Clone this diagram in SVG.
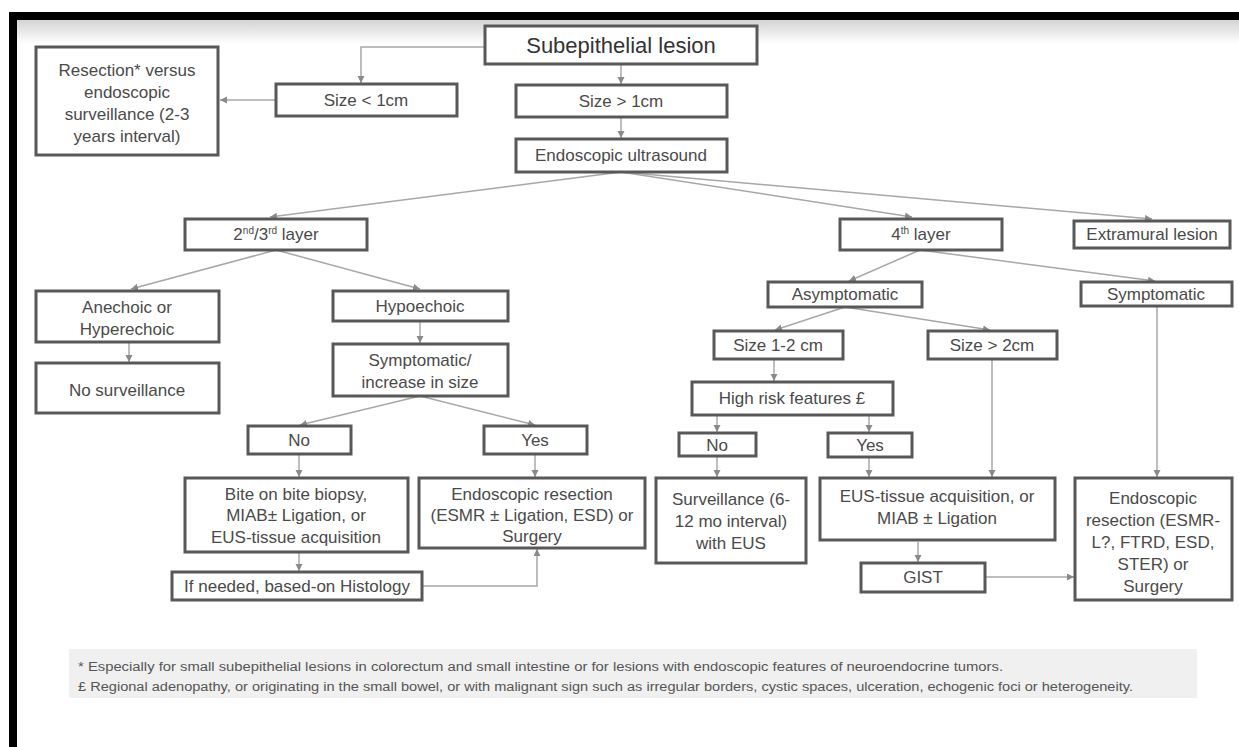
<svg xmlns="http://www.w3.org/2000/svg" width="1239" height="747" viewBox="0 0 1239 747">
<defs>
<linearGradient id="topShade" x1="0" y1="0" x2="0" y2="1">
<stop offset="0" stop-color="#d4d4d4"/>
<stop offset="1" stop-color="#ffffff"/>
</linearGradient>
<marker id="arr" markerWidth="8" markerHeight="8" refX="7" refY="3.5" orient="auto" markerUnits="userSpaceOnUse">
<path d="M0,0 L7,3.5 L0,7 z" fill="#8a8a8a"/>
</marker>
<style>
.box{fill:#ffffff;stroke:#585858;stroke-width:3}
.t{font-family:"Liberation Sans",Arial,sans-serif;font-size:17px;fill:#4a4a4a;text-anchor:middle}
.big{font-size:22px;fill:#333333}
.sup{font-size:10px}
.c{fill:none;stroke:#a8a8a8;stroke-width:1.5;marker-end:url(#arr)}
.fn{font-family:"Liberation Sans",Arial,sans-serif;font-size:12.5px;fill:#555555}
</style>
</defs>
<rect x="0" y="0" width="1239" height="747" fill="#ffffff"/>
<rect x="17" y="20" width="1222" height="24" fill="url(#topShade)"/>
<rect x="9" y="12" width="1230" height="8" fill="#000000"/>
<rect x="9" y="12" width="8" height="735" fill="#000000"/>

<g id="connectors">
<path class="c" d="M485,47 H361 V83"/>
<path class="c" d="M621,64 V84"/>
<path class="c" d="M621,117 V138"/>
<path class="c" d="M276,100 H220"/>
<path class="c" d="M621,172 L270,217"/>
<path class="c" d="M621,172 L912,217"/>
<path class="c" d="M621,172 L1152,219"/>
<path class="c" d="M276,250 L131,289"/>
<path class="c" d="M276,250 L420,289"/>
<path class="c" d="M129,342 V362"/>
<path class="c" d="M420,321 V343"/>
<path class="c" d="M420,396 L300,425"/>
<path class="c" d="M420,396 L535,425"/>
<path class="c" d="M299,454 V477"/>
<path class="c" d="M535,454 V477"/>
<path class="c" d="M299,552 V571"/>
<path class="c" d="M422,586 H537 V549"/>
<path class="c" d="M920,250 L849,281"/>
<path class="c" d="M920,250 L1155,281"/>
<path class="c" d="M845,307 L775,330"/>
<path class="c" d="M845,307 L990,330"/>
<path class="c" d="M774,359 V381"/>
<path class="c" d="M717,415 V432"/>
<path class="c" d="M869,415 V432"/>
<path class="c" d="M717,456 V477"/>
<path class="c" d="M869,457 V477"/>
<path class="c" d="M992,359 V477"/>
<path class="c" d="M1157,306 V477"/>
<path class="c" d="M918,542 V562"/>
<path class="c" d="M985,577 H1074"/>
</g>

<g id="n-root"><rect class="box" x="485" y="26" width="272" height="38"/><text class="t big" x="621" y="53">Subepithelial lesion</text></g>
<g id="n-lt1"><rect class="box" x="276" y="84" width="181" height="32"/><text class="t" x="366" y="106">Size &lt; 1cm</text></g>
<g id="n-gt1"><rect class="box" x="516" y="85" width="211" height="32"/><text class="t" x="621" y="107">Size &gt; 1cm</text></g>
<g id="n-resect"><rect class="box" x="36" y="47" width="182" height="108"/>
<text class="t" x="127" y="76">Resection* versus</text>
<text class="t" x="127" y="98">endoscopic</text>
<text class="t" x="127" y="120">surveillance (2-3</text>
<text class="t" x="127" y="142">years interval)</text></g>
<g id="n-eus"><rect class="box" x="516" y="139" width="211" height="33"/><text class="t" x="621" y="161">Endoscopic ultrasound</text></g>
<g id="n-l23"><rect class="box" x="185" y="219" width="182" height="31"/><text class="t" x="276" y="240">2<tspan class="sup" dy="-6">nd</tspan><tspan dy="6">/3</tspan><tspan class="sup" dy="-6">rd</tspan><tspan dy="6"> layer</tspan></text></g>
<g id="n-l4"><rect class="box" x="840" y="219" width="162" height="31"/><text class="t" x="921" y="240">4<tspan class="sup" dy="-6">th</tspan><tspan dy="6"> layer</tspan></text></g>
<g id="n-extra"><rect class="box" x="1074" y="221" width="156" height="27"/><text class="t" x="1152" y="240">Extramural lesion</text></g>
<g id="n-anech"><rect class="box" x="36" y="291" width="183" height="51"/>
<text class="t" x="127" y="313">Anechoic or</text>
<text class="t" x="127" y="335">Hyperechoic</text></g>
<g id="n-nosurv"><rect class="box" x="36" y="363" width="183" height="50"/><text class="t" x="127" y="396">No surveillance</text></g>
<g id="n-hypo"><rect class="box" x="333" y="291" width="175" height="30"/><text class="t" x="420" y="312">Hypoechoic</text></g>
<g id="n-sympinc"><rect class="box" x="333" y="344" width="175" height="52"/>
<text class="t" x="420" y="366">Symptomatic/</text>
<text class="t" x="420" y="388">increase in size</text></g>
<g id="n-no1"><rect class="box" x="248" y="426" width="103" height="28"/><text class="t" x="299" y="446">No</text></g>
<g id="n-yes1"><rect class="box" x="484" y="426" width="103" height="28"/><text class="t" x="535" y="446">Yes</text></g>
<g id="n-bite"><rect class="box" x="185" y="478" width="223" height="74"/>
<text class="t" x="296" y="500">Bite on bite biopsy,</text>
<text class="t" x="296" y="521">MIAB± Ligation, or</text>
<text class="t" x="296" y="543">EUS-tissue acquisition</text></g>
<g id="n-esmr"><rect class="box" x="419" y="478" width="226" height="70"/>
<text class="t" x="532" y="500">Endoscopic resection</text>
<text class="t" x="532" y="521">(ESMR ± Ligation, ESD) or</text>
<text class="t" x="532" y="542">Surgery</text></g>
<g id="n-ifneed"><rect class="box" x="172" y="572" width="250" height="28"/><text class="t" x="297" y="592">If needed, based-on Histology</text></g>
<g id="n-asym"><rect class="box" x="768" y="282" width="154" height="25"/><text class="t" x="845" y="300">Asymptomatic</text></g>
<g id="n-symp"><rect class="box" x="1081" y="282" width="151" height="24"/><text class="t" x="1156" y="300">Symptomatic</text></g>
<g id="n-s12"><rect class="box" x="714" y="331" width="129" height="28"/><text class="t" x="778" y="351">Size 1-2 cm</text></g>
<g id="n-s2"><rect class="box" x="928" y="331" width="129" height="28"/><text class="t" x="992" y="351">Size &gt; 2cm</text></g>
<g id="n-hr"><rect class="box" x="692" y="382" width="201" height="33"/><text class="t" x="792" y="404">High risk features £</text></g>
<g id="n-no2"><rect class="box" x="679" y="433" width="77" height="23"/><text class="t" x="717" y="451">No</text></g>
<g id="n-yes2"><rect class="box" x="828" y="433" width="84" height="24"/><text class="t" x="870" y="451">Yes</text></g>
<g id="n-surv"><rect class="box" x="656" y="478" width="150" height="85"/>
<text class="t" x="731" y="505">Surveillance (6-</text>
<text class="t" x="731" y="527">12 mo interval)</text>
<text class="t" x="731" y="549">with EUS</text></g>
<g id="n-eustis"><rect class="box" x="820" y="478" width="235" height="62"/>
<text class="t" x="937" y="502">EUS-tissue acquisition, or</text>
<text class="t" x="937" y="524">MIAB ± Ligation</text></g>
<g id="n-gist"><rect class="box" x="861" y="563" width="124" height="29"/><text class="t" x="923" y="583">GIST</text></g>
<g id="n-endo2"><rect class="box" x="1075" y="478" width="157" height="122"/>
<text class="t" x="1153" y="504">Endoscopic</text>
<text class="t" x="1153" y="526">resection (ESMR-</text>
<text class="t" x="1153" y="548">L?, FTRD, ESD,</text>
<text class="t" x="1153" y="570">STER) or</text>
<text class="t" x="1153" y="592">Surgery</text></g>

<g id="footnotes">
<rect x="69" y="649" width="1128" height="49" fill="#f0f0f0"/>
<text class="fn" x="78" y="671" textLength="925" lengthAdjust="spacingAndGlyphs">* Especially for small subepithelial lesions in colorectum and small intestine or for lesions with endoscopic features of neuroendocrine tumors.</text>
<text class="fn" x="78" y="691" textLength="1055" lengthAdjust="spacingAndGlyphs">£ Regional adenopathy, or originating in the small bowel, or with malignant sign such as irregular borders, cystic spaces, ulceration, echogenic foci or heterogeneity.</text>
</g>
</svg>
